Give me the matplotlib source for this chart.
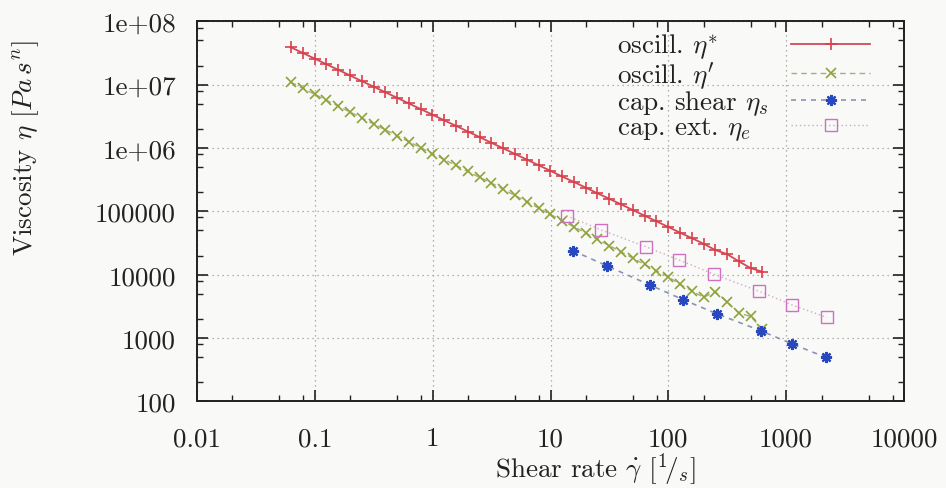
import matplotlib
matplotlib.use("Agg")
import matplotlib.pyplot as plt
from matplotlib.ticker import FixedLocator, NullFormatter, LogLocator
import numpy as np

# ---- data ----
osc_rate = [0.0628, 0.0791, 0.0995, 0.125, 0.158, 0.199, 0.250, 0.315, 0.397, 0.499,
            0.628, 0.791, 0.995, 1.25, 1.58, 1.99, 2.50, 3.15, 3.97, 4.99,
            6.28, 7.91, 9.95, 12.5, 15.8, 19.9, 25.0, 31.5, 39.7, 49.9,
            62.8, 79.1, 99.5, 125, 158, 199, 250, 315, 397, 499, 628]
eta_star = [3.89e7, 3.17e7, 2.59e7, 2.11e7, 1.72e7, 1.40e7, 1.14e7, 9.33e6, 7.60e6, 6.21e6,
            5.06e6, 4.12e6, 3.37e6, 2.74e6, 2.24e6, 1.82e6, 1.49e6, 1.21e6, 9.89e5, 8.07e5,
            6.58e5, 5.36e5, 4.38e5, 3.56e5, 2.91e5, 2.37e5, 1.93e5, 1.58e5, 1.29e5, 1.05e5,
            8.55e4, 6.97e4, 5.69e4, 4.63e4, 3.78e4, 3.08e4, 2.45e4, 2.11e4, 1.62e4, 1.27e4, 1.11e4]
eta_prime = [1.09e7, 8.79e6, 7.08e6, 5.70e6, 4.59e6, 3.70e6, 2.99e6, 2.40e6, 1.94e6, 1.56e6,
             1.26e6, 1.01e6, 8.17e5, 6.58e5, 5.30e5, 4.27e5, 3.44e5, 2.80e5, 2.23e5, 1.78e5,
             1.42e5, 1.13e5, 8.97e4, 7.16e4, 5.70e4, 4.54e4, 3.62e4, 2.88e4, 2.30e4, 1.83e4,
             1.45e4, 1.15e4, 9.27e3, 7.08e3, 5.57e3, 4.38e3, 5.37e3, 3.73e3, 2.47e3, 2.19e3, 1.38e3]
cap_shear_rate = [15.5, 30, 70, 134, 261, 610, 1130, 2170]
eta_s = [2.39e4, 1.38e4, 6.85e3, 4.02e3, 2.39e3, 1.30e3, 802, 494]
cap_ext_rate = [13.7, 26.7, 64.4, 124, 242, 590, 1117, 2213]
eta_e = [8.53e4, 5.12e4, 2.76e4, 1.70e4, 1.02e4, 5.45e3, 3.34e3, 2.11e3]

x_ticks = [0.01, 0.1, 1, 10, 100, 1000, 10000]
x_tick_labels = ["0.01", "0.1", "1", "10", "100", "1000", "10000"]
y_ticks = [1e2, 1e3, 1e4, 1e5, 1e6, 1e7, 1e8]
y_tick_labels = ["100", "1000", "10000", "100000", "1e+06", "1e+07", "1e+08"]

labels = [r"oscill. $\eta^{*}$", r"oscill. $\eta'$", r"cap. shear $\eta_s$", r"cap. ext. $\eta_e$"]

# ---- style ----
plt.rcParams["font.family"] = ["cmr10", "DejaVu Serif"]
plt.rcParams["mathtext.fontset"] = "cm"
plt.rcParams["axes.formatter.use_mathtext"] = True
FS = 19.5
TXT = "#222222"

bg = "#f9f9f8"
W, H = 946, 489
fig = plt.figure(figsize=(W/100, H/100), dpi=100, facecolor=bg)
x0, x1, y0, y1 = 197, 904, 402.3, 22.4
ax = fig.add_axes([x0/W, 1-y0/H, (x1-x0)/W, (y0-y1)/H])
ax.set_facecolor(bg)
ax.set_xscale("log")
ax.set_yscale("log")
ax.set_xlim(0.01, 10000)
ax.set_ylim(100, 1e8)

def ax_coords(px, py):
    return ((px - x0) / (x1 - x0), (y0 - py) / (y0 - y1))

h1, = ax.plot(osc_rate, eta_star, color="#d04a5a", lw=1.3, marker="+", ms=9, mew=1.2,
              markeredgecolor="#d8404a", label=labels[0])
h2, = ax.plot(osc_rate, eta_prime, color="#a4ae7c", lw=1.0, ls=(0, (4, 3)), marker="x", ms=7.5, mew=1.2,
              markeredgecolor="#8ea23a", label=labels[1])
h3, = ax.plot(cap_shear_rate, eta_s, color="#8a94b4", lw=1.2, ls=(0, (3, 3)), marker=(8, 2, 0), ms=8, mew=1.6,
              markeredgecolor="#2848c0", label=labels[2])
h4, = ax.plot(cap_ext_rate, eta_e, color="#d0a8c8", lw=1.0, ls=(0, (1, 2)), marker="s", ms=8.5, mew=1.0,
              markerfacecolor="none", markeredgecolor="#d070c0", label=labels[3])
handles = [h1, h2, h3, h4]

ax.xaxis.set_major_locator(FixedLocator(x_ticks))
ax.set_xticklabels(x_tick_labels)
ax.yaxis.set_major_locator(FixedLocator(y_ticks))
ax.set_yticklabels(y_tick_labels)
ax.xaxis.set_minor_locator(LogLocator(base=10, subs=[2, 5, 8], numticks=20))
ax.yaxis.set_minor_locator(LogLocator(base=10, subs=[2, 5, 8], numticks=20))
ax.xaxis.set_minor_formatter(NullFormatter())
ax.yaxis.set_minor_formatter(NullFormatter())

ax.tick_params(which="both", direction="in", top=True, right=True, labelsize=FS, colors=TXT)
ax.tick_params(which="major", length=8, width=1.2)
ax.tick_params(axis="x", which="major", pad=18)
ax.tick_params(axis="y", which="major", pad=15)
ax.tick_params(which="minor", length=4, width=1.0)
for s in ax.spines.values():
    s.set_linewidth(1.4)
    s.set_color(TXT)

ax.grid(True, which="major", ls=(0, (1, 3)), color="#9a9a9a", lw=0.9)

ax.set_ylabel(r"Viscosity $\eta$ $[Pa\,s^n]$", fontsize=FS, color=TXT)
ax.yaxis.set_label_coords(-0.22, 0.67)
ax.set_xlabel(r"Shear rate $\dot{\gamma}$ $[{}^1\!/_s]$", fontsize=FS, color=TXT)
ax.xaxis.set_label_coords(0.563, -0.129)

# gnuplot-style key: left-aligned text column, samples on the right
leg_top = 33
common = dict(frameon=False, fontsize=FS, labelspacing=-0.08, borderpad=0.0, borderaxespad=0.0)
legA = ax.legend(handles, labels, loc="upper left", bbox_to_anchor=ax_coords(617, leg_top),
                 handlelength=0, handletextpad=0, **common)
for h in legA.legend_handles:
    h.set_visible(False)
for t in legA.get_texts():
    t.set_color(TXT)
ax.add_artist(legA)
legB = ax.legend(handles, labels, loc="upper left", bbox_to_anchor=ax_coords(791, leg_top),
                 handlelength=(870-791)/(FS*100/72), handletextpad=0, **common)
for t in legB.get_texts():
    t.set_alpha(0)

fig.savefig("out.png", dpi=100, facecolor=bg)
